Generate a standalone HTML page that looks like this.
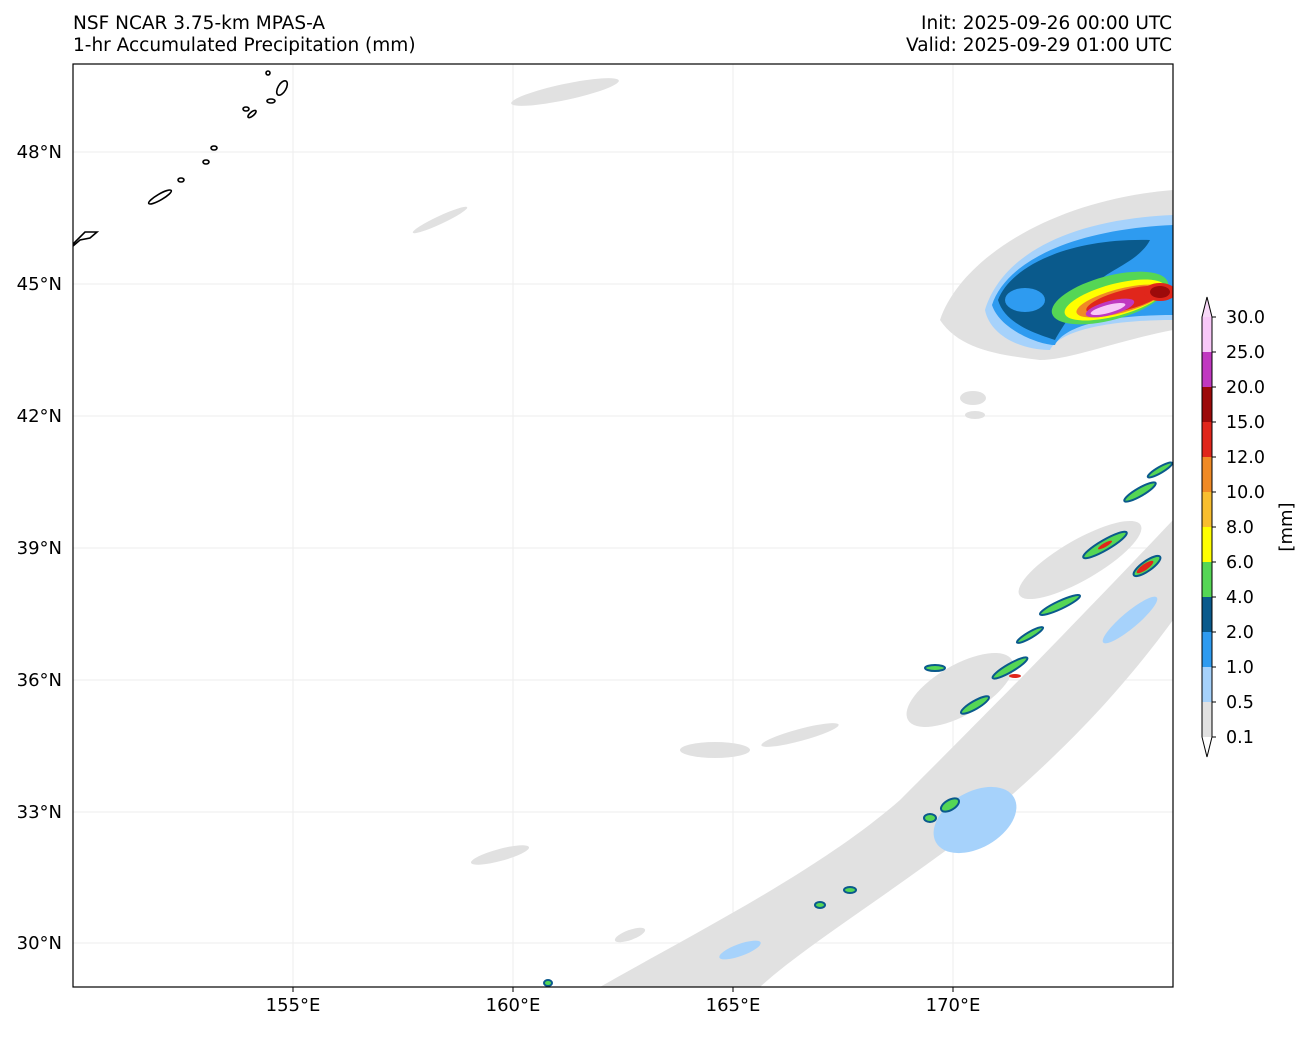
<!DOCTYPE html>
<html><head><meta charset="utf-8"><style>
body{margin:0;background:#fff;font-family:"Liberation Sans","DejaVu Sans",sans-serif;}
</style></head><body>
<svg width="1309" height="1032" viewBox="0 0 1309 1032" xmlns="http://www.w3.org/2000/svg" font-family="DejaVu Sans, Liberation Sans, sans-serif" font-size="18">
<rect width="1309" height="1032" fill="#fff"/>
<text x="73" y="29" font-size="18.5">NSF NCAR 3.75-km MPAS-A</text>
<text x="73" y="51" font-size="18.5">1-hr Accumulated Precipitation (mm)</text>
<text x="1172" y="29" font-size="18.5" text-anchor="end">Init: 2025-09-26 00:00 UTC</text>
<text x="1172" y="51" font-size="18.5" text-anchor="end">Valid: 2025-09-29 01:00 UTC</text>
<defs><clipPath id="c"><rect x="73" y="64" width="1100" height="923"/></clipPath></defs>
<g clip-path="url(#c)">
<g stroke="#eee" stroke-width="1">
<line x1="293" y1="64" x2="293" y2="987"/><line x1="513" y1="64" x2="513" y2="987"/><line x1="733" y1="64" x2="733" y2="987"/><line x1="953" y1="64" x2="953" y2="987"/>
<line x1="73" y1="152" x2="1173" y2="152"/><line x1="73" y1="284" x2="1173" y2="284"/><line x1="73" y1="416" x2="1173" y2="416"/><line x1="73" y1="548" x2="1173" y2="548"/><line x1="73" y1="680" x2="1173" y2="680"/><line x1="73" y1="812" x2="1173" y2="812"/><line x1="73" y1="943" x2="1173" y2="943"/>
</g>
<g fill="#e1e1e1">
<ellipse cx="565" cy="92" rx="55" ry="8" transform="rotate(-12 565 92)"/>
<ellipse cx="440" cy="220" rx="30" ry="4" transform="rotate(-25 440 220)"/>
<path d="M600 987 C700 930 820 870 900 800 C960 740 1050 650 1173 520 L1173 620 C1100 720 1030 780 960 840 C880 900 800 950 760 987Z"/>
<path d="M940 320 C960 260 1050 200 1173 190 L1173 330 C1120 340 1070 360 1040 360 C1000 355 960 350 940 320Z"/>
<ellipse cx="973" cy="398" rx="13" ry="7"/>
<ellipse cx="975" cy="415" rx="10" ry="4"/>
<ellipse cx="960" cy="690" rx="60" ry="25" transform="rotate(-30 960 690)"/>
<ellipse cx="1080" cy="560" rx="70" ry="20" transform="rotate(-30 1080 560)"/>
<ellipse cx="715" cy="750" rx="35" ry="8"/>
<ellipse cx="500" cy="855" rx="30" ry="6" transform="rotate(-15 500 855)"/>
<ellipse cx="630" cy="935" rx="16" ry="5" transform="rotate(-20 630 935)"/>
<ellipse cx="800" cy="735" rx="40" ry="6" transform="rotate(-15 800 735)"/>
</g>
<g fill="#a6d2fb">
<ellipse cx="975" cy="820" rx="45" ry="28" transform="rotate(-30 975 820)"/>
<ellipse cx="1130" cy="620" rx="35" ry="8" transform="rotate(-40 1130 620)"/>
<ellipse cx="740" cy="950" rx="22" ry="6" transform="rotate(-20 740 950)"/>
<path d="M985 310 C1000 260 1060 220 1173 215 L1173 320 C1110 320 1060 330 1050 350 C1020 350 990 335 985 310Z"/>
</g>
<g fill="#2e9bf0">
<path d="M992 305 C1005 265 1065 230 1173 225 L1173 315 C1110 315 1065 325 1055 345 C1040 345 1000 330 992 305Z"/>
</g>
<g fill="#0a5a8c">
<path d="M998 300 C1010 268 1065 238 1150 240 C1140 260 1110 270 1100 280 C1080 300 1060 330 1055 340 C1040 335 1005 325 998 300Z"/>
</g>
<g fill="#2e9bf0"><ellipse cx="1025" cy="300" rx="20" ry="12"/></g>
<g fill="#55d655"><ellipse cx="1110" cy="298" rx="60" ry="22" transform="rotate(-15 1110 298)"/></g>
<g fill="#ffff00"><ellipse cx="1115" cy="300" rx="52" ry="16" transform="rotate(-15 1115 300)"/></g>
<g fill="#f08a25"><ellipse cx="1120" cy="301" rx="45" ry="12" transform="rotate(-15 1120 301)"/></g>
<g fill="#e0261b"><ellipse cx="1125" cy="300" rx="40" ry="10" transform="rotate(-15 1125 300)"/><ellipse cx="1160" cy="292" rx="16" ry="9"/></g>
<g fill="#9c0a0a"><ellipse cx="1160" cy="292" rx="10" ry="6"/></g>
<g fill="#c038c0"><ellipse cx="1110" cy="308" rx="25" ry="7" transform="rotate(-15 1110 308)"/></g>
<g fill="#f8c8f8"><ellipse cx="1108" cy="309" rx="18" ry="4" transform="rotate(-15 1108 309)"/></g>
<g stroke="#0a5a8c" stroke-width="2" fill="#55d655">
<ellipse cx="1105" cy="545" rx="25" ry="5" transform="rotate(-30 1105 545)"/>
<ellipse cx="1140" cy="492" rx="18" ry="4" transform="rotate(-30 1140 492)"/>
<ellipse cx="1160" cy="470" rx="14" ry="3" transform="rotate(-30 1160 470)"/>
<ellipse cx="1060" cy="605" rx="22" ry="4" transform="rotate(-25 1060 605)"/>
<ellipse cx="1147" cy="566" rx="16" ry="5" transform="rotate(-35 1147 566)"/>
<ellipse cx="1010" cy="668" rx="20" ry="4" transform="rotate(-30 1010 668)"/>
<ellipse cx="975" cy="705" rx="16" ry="4" transform="rotate(-30 975 705)"/>
<ellipse cx="935" cy="668" rx="10" ry="3"/>
<ellipse cx="1030" cy="635" rx="15" ry="3" transform="rotate(-30 1030 635)"/>
<ellipse cx="950" cy="805" rx="10" ry="5" transform="rotate(-30 950 805)"/>
<ellipse cx="930" cy="818" rx="6" ry="4"/>
<ellipse cx="850" cy="890" rx="6" ry="3"/>
<ellipse cx="820" cy="905" rx="5" ry="3"/>
<ellipse cx="548" cy="983" rx="4" ry="3"/>
</g>
<g fill="#e0261b"><ellipse cx="1145" cy="567" rx="10" ry="3" transform="rotate(-35 1145 567)"/><ellipse cx="1015" cy="676" rx="6" ry="2"/><ellipse cx="1105" cy="545" rx="8" ry="2" transform="rotate(-30 1105 545)"/></g>
<g fill="none" stroke="#000" stroke-width="1.6">
<path d="M73 244 L85 232 L97 232 L90 238 L80 240 L73 246"/>
<ellipse cx="160" cy="197" rx="13" ry="3" transform="rotate(-30 160 197)"/>
<ellipse cx="181" cy="180" rx="3" ry="2"/><ellipse cx="206" cy="162" rx="3" ry="2"/><ellipse cx="214" cy="148" rx="3" ry="2"/>
<ellipse cx="252" cy="114" rx="5" ry="2" transform="rotate(-40 252 114)"/><ellipse cx="246" cy="109" rx="3" ry="2"/>
<ellipse cx="271" cy="101" rx="4" ry="2"/><ellipse cx="282" cy="88" rx="4" ry="8" transform="rotate(30 282 88)"/><ellipse cx="268" cy="73" rx="2" ry="2"/>
</g>
</g>
<rect x="73" y="64" width="1100" height="923" fill="none" stroke="#000" stroke-width="1.2"/>
<g font-size="18" text-anchor="middle">
<line x1="293" y1="987" x2="293" y2="992" stroke="#000"/><text x="293" y="1011">155°E</text>
<line x1="513" y1="987" x2="513" y2="992" stroke="#000"/><text x="513" y="1011">160°E</text>
<line x1="733" y1="987" x2="733" y2="992" stroke="#000"/><text x="733" y="1011">165°E</text>
<line x1="953" y1="987" x2="953" y2="992" stroke="#000"/><text x="953" y="1011">170°E</text>
</g>
<g font-size="18" text-anchor="end">
<text x="62" y="158">48°N</text><text x="62" y="290">45°N</text><text x="62" y="422">42°N</text><text x="62" y="554">39°N</text><text x="62" y="686">36°N</text><text x="62" y="818">33°N</text><text x="62" y="949">30°N</text>
</g>
<g stroke="none">
<polygon points="1202,737 1212,737 1207,757" fill="#ffffff"/>
<rect x="1202" y="702" width="10" height="35" fill="#e1e1e1"/>
<rect x="1202" y="667" width="10" height="35" fill="#a6d2fb"/>
<rect x="1202" y="632" width="10" height="35" fill="#2e9bf0"/>
<rect x="1202" y="597" width="10" height="35" fill="#0a5a8c"/>
<rect x="1202" y="562" width="10" height="35" fill="#55d655"/>
<rect x="1202" y="527" width="10" height="35" fill="#ffff00"/>
<rect x="1202" y="492" width="10" height="35" fill="#f8be2f"/>
<rect x="1202" y="457" width="10" height="35" fill="#f08a25"/>
<rect x="1202" y="422" width="10" height="35" fill="#e0261b"/>
<rect x="1202" y="387" width="10" height="35" fill="#9c0a0a"/>
<rect x="1202" y="352" width="10" height="35" fill="#c038c0"/>
<rect x="1202" y="317" width="10" height="35" fill="#f8c8f8"/>
<polygon points="1202,317 1212,317 1207,297" fill="#f8d8f8"/>
</g>
<polygon points="1202,317 1207,297 1212,317 1212,737 1207,757 1202,737" fill="none" stroke="#000" stroke-width="1"/>
<g font-size="17.5">
<text x="1226" y="743">0.1</text><text x="1226" y="708">0.5</text><text x="1226" y="673">1.0</text><text x="1226" y="638">2.0</text><text x="1226" y="603">4.0</text><text x="1226" y="568">6.0</text><text x="1226" y="533">8.0</text><text x="1226" y="498">10.0</text><text x="1226" y="463">12.0</text><text x="1226" y="428">15.0</text><text x="1226" y="393">20.0</text><text x="1226" y="358">25.0</text><text x="1226" y="323">30.0</text>
</g>
<g stroke="#000"><line x1="1212" y1="737" x2="1216" y2="737"/><line x1="1212" y1="702" x2="1216" y2="702"/><line x1="1212" y1="667" x2="1216" y2="667"/><line x1="1212" y1="632" x2="1216" y2="632"/><line x1="1212" y1="597" x2="1216" y2="597"/><line x1="1212" y1="562" x2="1216" y2="562"/><line x1="1212" y1="527" x2="1216" y2="527"/><line x1="1212" y1="492" x2="1216" y2="492"/><line x1="1212" y1="457" x2="1216" y2="457"/><line x1="1212" y1="422" x2="1216" y2="422"/><line x1="1212" y1="387" x2="1216" y2="387"/><line x1="1212" y1="352" x2="1216" y2="352"/><line x1="1212" y1="317" x2="1216" y2="317"/></g>
<text x="1292" y="527" font-size="18" text-anchor="middle" transform="rotate(-90 1292 527)">[mm]</text>
</svg>
</body></html>
